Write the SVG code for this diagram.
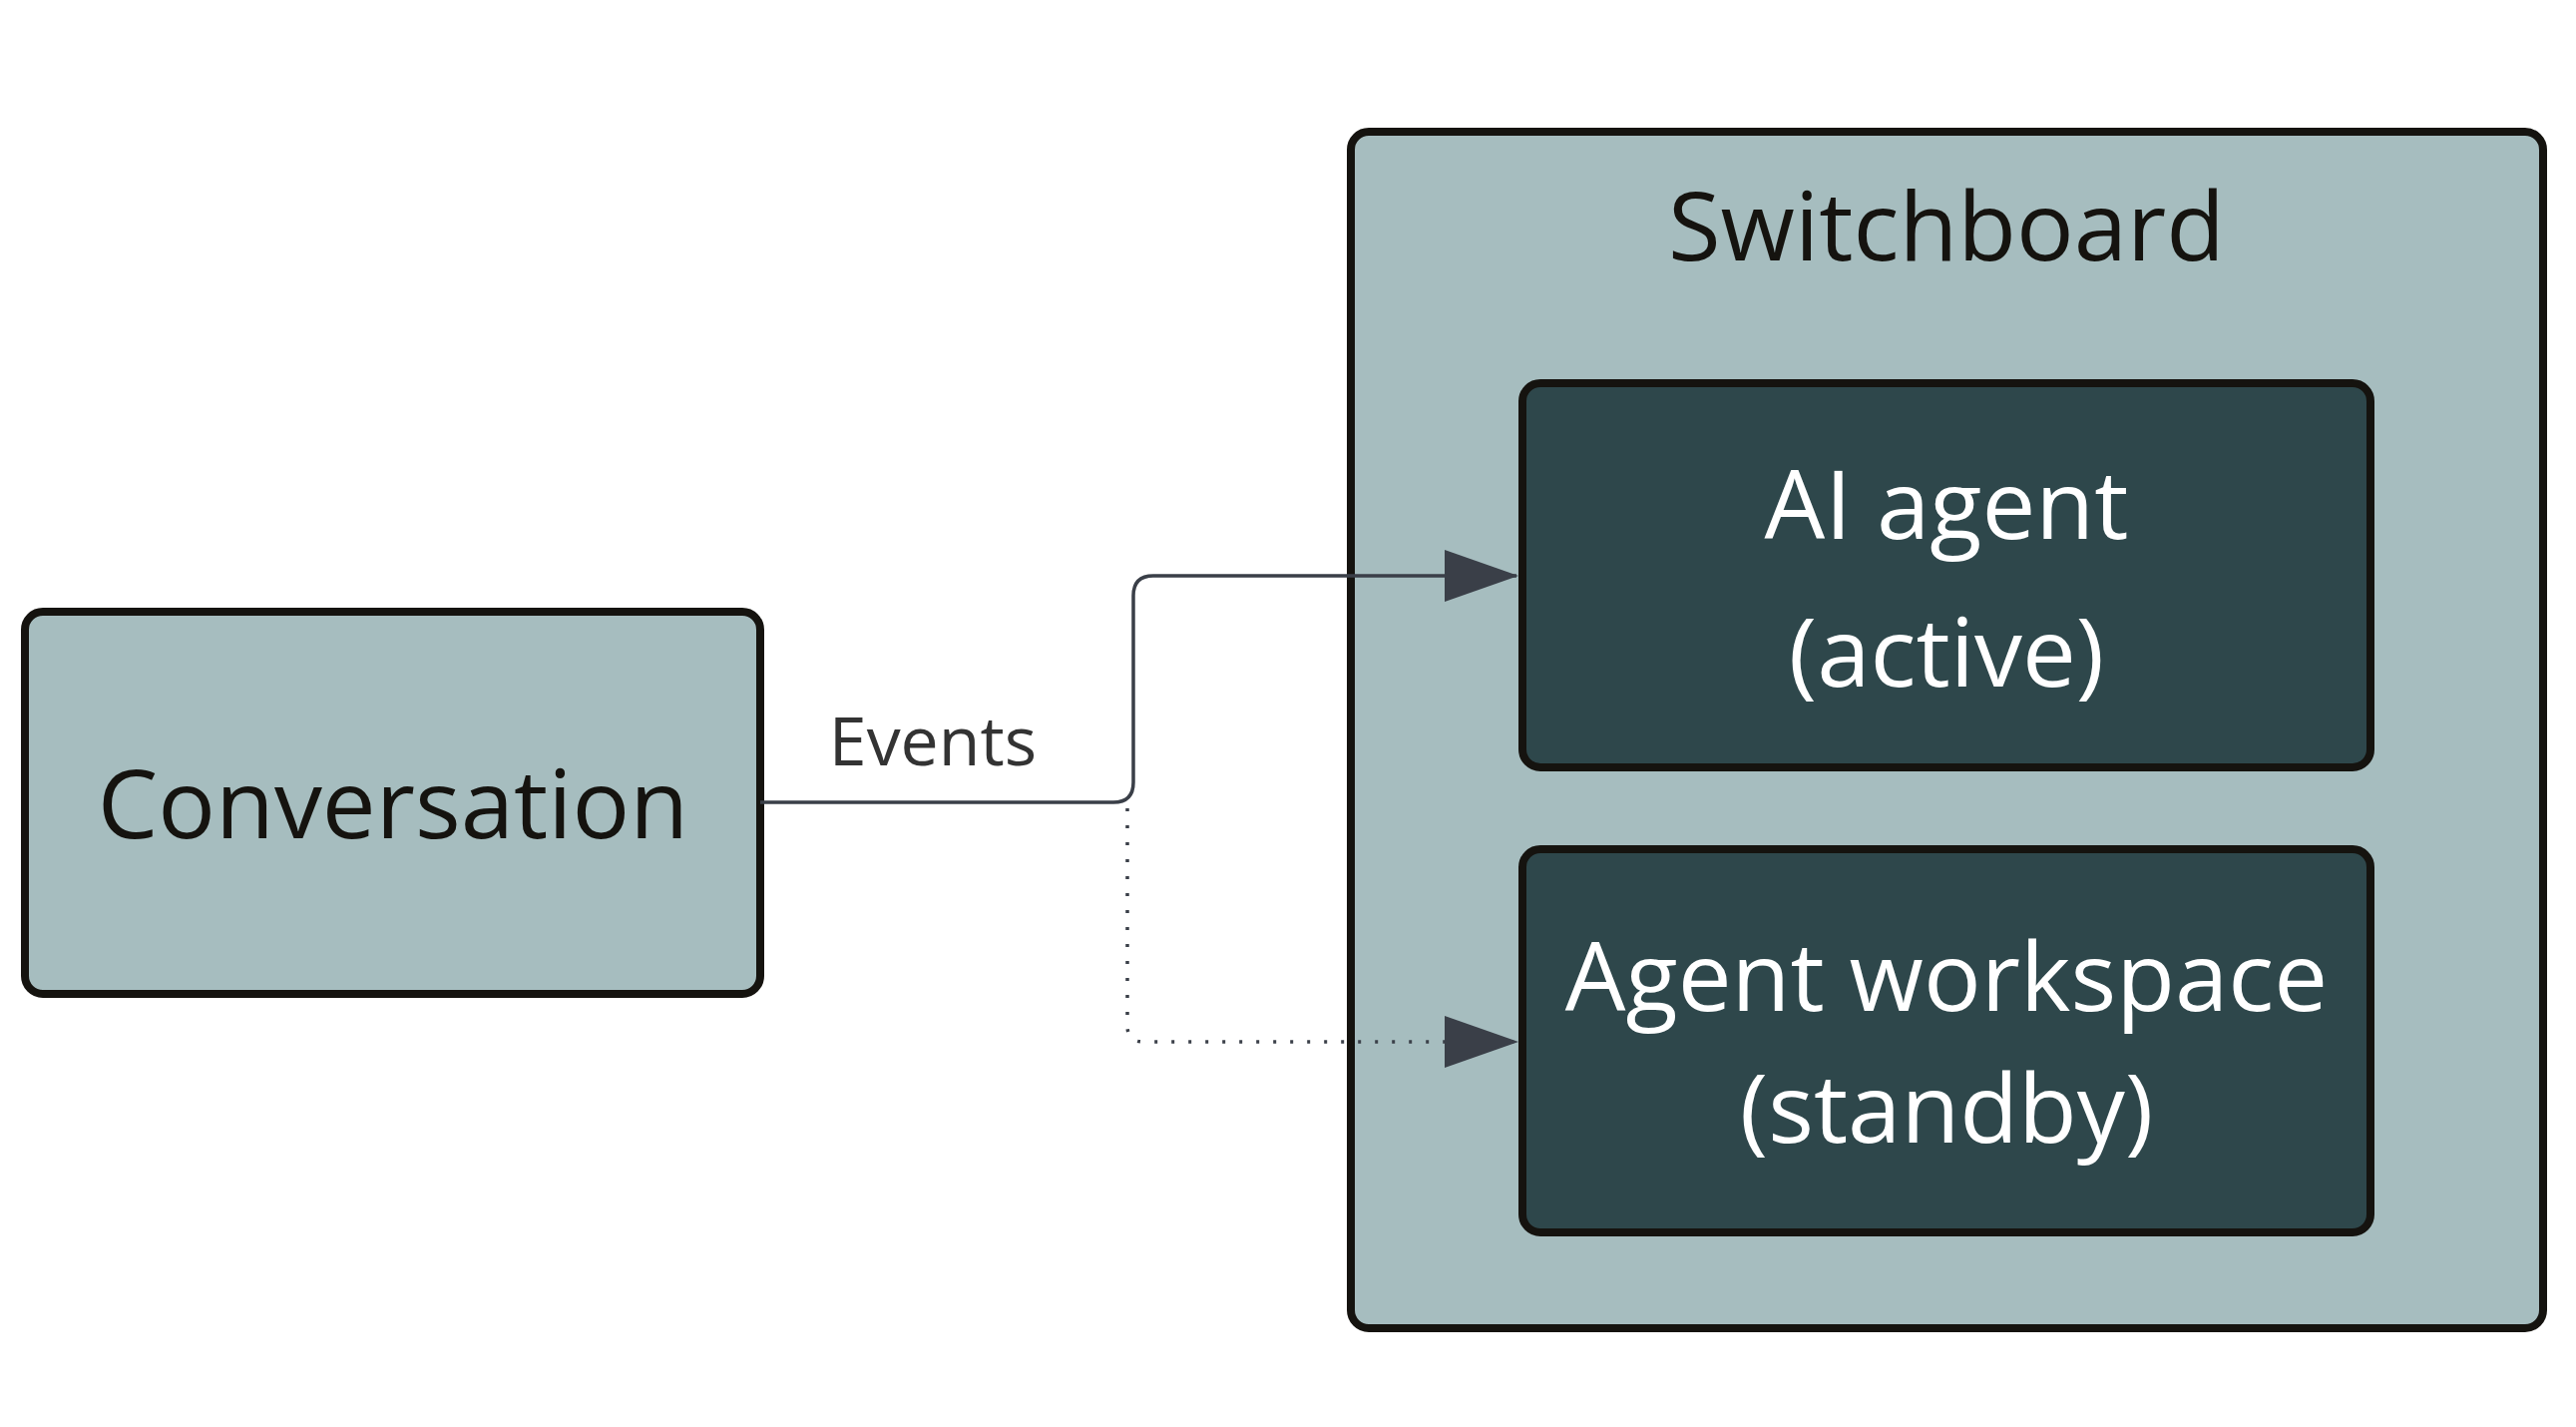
<svg xmlns="http://www.w3.org/2000/svg" width="2582" height="1430" viewBox="0 0 2582 1430">
<style>
.light{fill:#A6BDBF;stroke:#15130f;stroke-width:8}
.dark{fill:#2E474B;stroke:#15130f;stroke-width:8}
.t{font-family:"Open Sans","Liberation Sans",sans-serif;font-size:96px;text-anchor:middle}
.edge{fill:none;stroke:#3a3f48;stroke-width:3.5}
</style>
<defs>
<marker id="ah" markerWidth="74" markerHeight="52" refX="72" refY="26" markerUnits="userSpaceOnUse" orient="auto"><path d="M0,0 L74,26 L0,52 Z" fill="#3a3f48"/></marker>
</defs>
<rect width="2582" height="1430" fill="#fff"/>
<g id="switchboard"><rect class="light" x="1354" y="132" width="1195" height="1199" rx="18"/><text class="t" x="1951" y="261" fill="#15130f">Switchboard</text></g>
<g id="conversation"><rect class="light" x="25" y="613" width="737" height="383" rx="18"/><text class="t" x="394" y="840" fill="#15130f">Conversation</text></g>
<g id="ai-agent"><rect class="dark" x="1526" y="384" width="850" height="385" rx="18"/><text class="t" x="1951" y="540" fill="#fff">AI agent</text><text class="t" x="1951" y="688" fill="#fff">(active)</text></g>
<g id="agent-workspace"><rect class="dark" x="1526" y="851" width="850" height="384" rx="18"/><text class="t" x="1951" y="1013" fill="#fff">Agent workspace</text><text class="t" x="1951" y="1145" fill="#fff">(standby)</text></g>
<g id="connectors">
<path class="edge" d="M762,804 H1116 Q1136,804 1136,784 V597 Q1136,577 1156,577 H1520" marker-end="url(#ah)"/>
<path class="edge" d="M1130,810 V1028 Q1130,1044 1146,1044 H1520" stroke-dasharray="3,14" marker-end="url(#ah)"/>
<text x="935" y="767" font-family="'Open Sans','Liberation Sans',sans-serif" font-size="68" text-anchor="middle" fill="#333">Events</text>
</g>
</svg>
